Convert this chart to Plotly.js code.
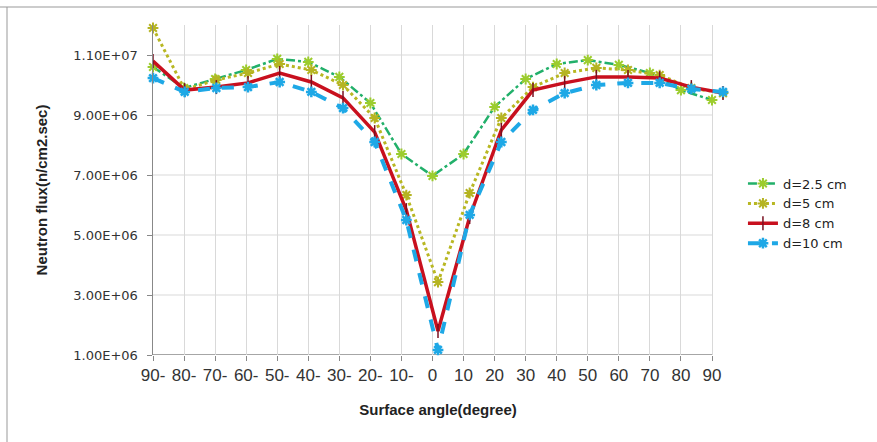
<!DOCTYPE html>
<html>
<head>
<meta charset="utf-8">
<script src="https://cdn.plot.ly/plotly-3.0.1.min.js"></script>
<style>html,body{margin:0;padding:0;background:#fff;}#chart{width:877px;height:442px;}</style>
</head>
<body>
<div id="chart"></div>
<script>
var categories = ["90-","80-","70-","60-","50-","40-","30-","20-","10-","0","10","20","30","40","50","60","70","80","90"];
var seriesNames = ["d=2.5 cm","d=5 cm","d=8 cm","d=10 cm"];
var flux25 = [1.06e7,9.9e6,1.02e7,1.05e7,1.087e7,1.077e7,1.027e7,9.4e6,7.7e6,6.97e6,7.7e6,9.27e6,1.02e7,1.07e7,1.083e7,1.067e7,1.04e7,9.83e6,9.5e6];
var flux5  = [1.19e7,9.85e6,1.017e7,1.04e7,1.07e7,1.05e7,1.0e7,8.9e6,6.33e6,3.43e6,6.4e6,8.9e6,9.93e6,1.04e7,1.057e7,1.05e7,1.033e7,9.9e6,9.73e6];
var flux8  = [1.08e7,9.83e6,9.93e6,1.007e7,1.04e7,1.01e7,9.57e6,8.43e6,5.83e6,1.8e6,5.6e6,8.5e6,9.83e6,1.007e7,1.027e7,1.027e7,1.023e7,9.93e6,9.73e6];
var flux10 = [1.023e7,9.77e6,9.9e6,9.93e6,1.01e7,9.77e6,9.23e6,8.1e6,5.5e6,1.17e6,5.67e6,8.1e6,9.17e6,9.73e6,1.0e7,1.007e7,1.007e7,9.87e6,9.77e6];
var yTicks = [1e6,3e6,5e6,7e6,9e6,1.1e7];
var yTickLabels = ["1.00E+06","3.00E+06","5.00E+06","7.00E+06","9.00E+06","1.10E+07"];

var idx = categories.map(function(_, i){ return i; });
var lastIdx = idx[idx.length - 1];
// plot area spans 570 px; category axis uses 559 px of it
var stretch = 570 / 559;

var traces = [
  {x: idx, y: flux25, name: seriesNames[0], type: 'scatter', mode: 'lines+markers', xaxis: 'x',
   line: {color: '#22b06a', width: 2.5, dash: 'dashdot'},
   marker: {symbol: 'asterisk-open', size: 9, color: '#9ccc2e', line: {color: '#9ccc2e', width: 2}}, cliponaxis: false},
  {x: idx, y: flux5, name: seriesNames[1], type: 'scatter', mode: 'lines+markers', xaxis: 'x2',
   line: {color: '#b8b722', width: 3, dash: 'dot'},
   marker: {symbol: 'asterisk-open', size: 9, color: '#b5b422', line: {color: '#b5b422', width: 2}}, cliponaxis: false},
  {x: idx, y: flux8, name: seriesNames[2], type: 'scatter', mode: 'lines+markers', xaxis: 'x2',
   line: {color: '#c8101e', width: 3.5},
   marker: {symbol: 'line-ns-open', size: 10, color: '#7a1020', line: {color: '#7a1020', width: 1.5}}, cliponaxis: false},
  {x: idx, y: flux10, name: seriesNames[3], type: 'scatter', mode: 'lines+markers', xaxis: 'x2',
   line: {color: '#1ea8e6', width: 4, dash: 'dash'},
   marker: {symbol: 'asterisk-open', size: 9, color: '#1ea8e6', line: {color: '#1ea8e6', width: 2.5}}, cliponaxis: false}
];

var shapes = [
  {type: 'line', xref: 'paper', yref: 'paper', x0: -153/570, x1: 1 + 154/570, y0: 1 + 18/330, y1: 1 + 18/330, line: {color: '#999', width: 1}},
  {type: 'line', xref: 'paper', yref: 'paper', x0: -146/570, x1: -146/570, y0: -87/330, y1: 1 + 18/330, line: {color: '#999', width: 1}}
];
yTicks.forEach(function(v){
  shapes.push({type: 'line', xref: 'x', yref: 'y', x0: 0, x1: lastIdx, y0: v, y1: v, layer: 'below',
               line: {color: v === yTicks[0] ? '#888' : '#d9d9d9', width: v === yTicks[0] ? 1.5 : 1}});
});

var layout = {
  width: 877, height: 442,
  margin: {l: 153, r: 154, t: 25, b: 87},
  paper_bgcolor: '#fff', plot_bgcolor: '#fff',
  font: {family: 'Liberation Sans, Arial, sans-serif', color: '#333'},
  showlegend: true,
  legend: {x: 1.035, y: 0.565, xanchor: 'left', yanchor: 'top', font: {size: 13, color: '#222', family: 'DejaVu Sans, sans-serif'},
           bgcolor: 'rgba(0,0,0,0)', tracegroupgap: 0},
  xaxis: {
    range: [0, lastIdx * stretch], tickvals: idx, ticktext: categories,
    showgrid: true, gridcolor: '#d9d9d9', gridwidth: 1,
    showline: false,
    ticks: 'outside', ticklen: 5, tickcolor: '#888',
    tickfont: {size: 17, color: '#333'}, zeroline: false,
    title: {text: 'Surface angle(degree)', font: {size: 15, color: '#222', family: 'Liberation Sans, Arial, sans-serif', weight: 'bold'}, standoff: 20}
  },
  xaxis2: {overlaying: 'x', range: [0, lastIdx], visible: false, showgrid: false, zeroline: false},
  yaxis: {
    range: [1e6, 1.2e7], tickvals: yTicks, ticktext: yTickLabels,
    showgrid: false,
    showline: true, linecolor: '#888', linewidth: 1.5,
    ticks: 'outside', ticklen: 5, tickcolor: '#888',
    tickfont: {size: 13, color: '#333', family: 'DejaVu Sans, sans-serif'}, zeroline: false, ticklabelstandoff: 6,
    title: {text: 'Neutron flux(n/cm2.sec)', font: {size: 15, color: '#222', family: 'Liberation Sans, Arial, sans-serif', weight: 'bold'}, standoff: 22}
  },
  shapes: shapes
};

Plotly.newPlot('chart', traces, layout, {staticPlot: true, displayModeBar: false});
</script>
</body>
</html>
